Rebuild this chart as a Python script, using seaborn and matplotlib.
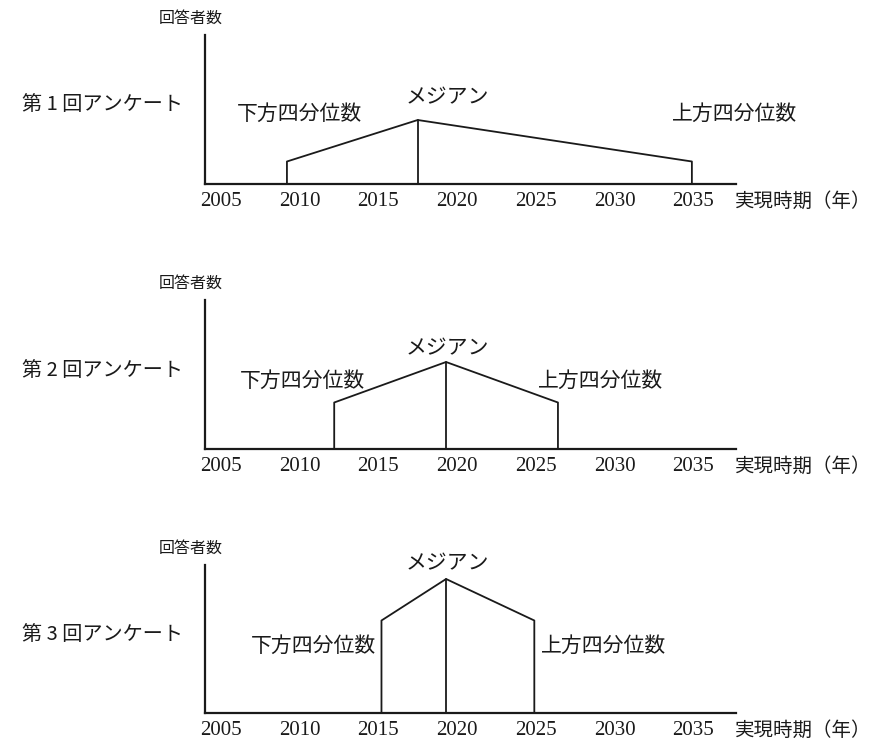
import matplotlib
matplotlib.use("Agg")
import matplotlib.pyplot as plt
import pandas as pd
import seaborn as sns

# survey rounds and their quartile / median years
rounds = ["第 1 回アンケート", "第 2 回アンケート", "第 3 回アンケート"]
lower_q = [2009.2, 2012.2, 2015.2]
median = [2017.5, 2019.3, 2019.3]
upper_q = [2034.9, 2026.4, 2024.9]
# relative number of respondents at the quartiles and at the median
edge_height = [22.5, 46.5, 92.5]
peak_height = [64, 87, 134]

year_ticks = [2005, 2010, 2015, 2020, 2025, 2030, 2035]

sns.set_theme(style="white")
plt.rcParams["font.family"] = ["Noto Sans CJK JP", "DejaVu Sans"]

jp = ["Noto Sans CJK JP", "DejaVu Sans"]
num = ["Liberation Serif", "DejaVu Serif"]

# outline of each distribution: left edge -> median -> right edge
rows = []
for i in range(len(rounds)):
    pts = [(lower_q[i], 0), (lower_q[i], edge_height[i]), (median[i], peak_height[i]),
           (upper_q[i], edge_height[i]), (upper_q[i], 0)]
    for k, (x, y) in enumerate(pts):
        rows.append({"round": rounds[i], "order": k, "year": x, "count": y})
    # median line
    rows.append({"round": rounds[i] + "_m", "order": 0, "year": median[i], "count": 0})
    rows.append({"round": rounds[i] + "_m", "order": 1, "year": median[i], "count": peak_height[i]})
df = pd.DataFrame(rows)

fig = plt.figure(figsize=(8.79, 7.52), dpi=100)
W, H = 879, 752
ax_left, ax_right = 205, 736
tops = [35, 300, 565]
bases = [184, 449, 713]

# label placement (year, height) per panel
lo_lab = [(2010.0, 70), (2010.2, 68), (2010.9, 67)]
med_lab = [(2019.4, 87), (2019.4, 101), (2019.4, 150)]
up_lab = [(2037.6, 70), (2029.1, 68), (2029.3, 67)]

ink = "#1a1a1a"

for i in range(3):
    ax = fig.add_axes([ax_left / W, 1 - bases[i] / H,
                       (ax_right - ax_left) / W, (bases[i] - tops[i]) / H])
    for key in [rounds[i], rounds[i] + "_m"]:
        sub = df[df["round"] == key].sort_values("order")
        sns.lineplot(data=sub, x="year", y="count", sort=False, ax=ax,
                     color=ink, linewidth=1.3, estimator=None)
    ax.set_xlim(2004.0, 2037.7)
    ax.set_ylim(0, bases[i] - tops[i])
    sns.despine(ax=ax)
    for s in ["left", "bottom"]:
        ax.spines[s].set_color(ink)
        ax.spines[s].set_linewidth(1.6)
    ax.set_xticks(year_ticks)
    ax.set_xticklabels([str(t) for t in year_ticks], family=num, fontsize=15, color=ink)
    ax.set_yticks([])
    ax.tick_params(axis="x", length=0, pad=6)
    ax.set_xlabel("")
    ax.set_ylabel("")
    ax.patch.set_alpha(0)

    ax.text(*lo_lab[i], "下方四分位数", ha="center", va="center", fontsize=15,
            family=jp, color=ink)
    ax.text(*med_lab[i], "メジアン", ha="center", va="center", fontsize=15,
            family=jp, color=ink)
    ax.text(*up_lab[i], "上方四分位数", ha="center", va="center", fontsize=15,
            family=jp, color=ink)

    fig.text(191 / W, 1 - (tops[i] - 17) / H, "回答者数", ha="center", va="center",
             fontsize=11.5, family=jp, color=ink)
    fig.text(103 / W, 1 - (tops[i] + 70) / H, rounds[i], ha="center", va="center",
             fontsize=14.5, family=jp, color=ink)
    fig.text(803 / W, 1 - (bases[i] + 17) / H, "実現時期（年）", ha="center", va="center",
             fontsize=14, family=jp, color=ink)

fig.savefig("out.png", dpi=100)
